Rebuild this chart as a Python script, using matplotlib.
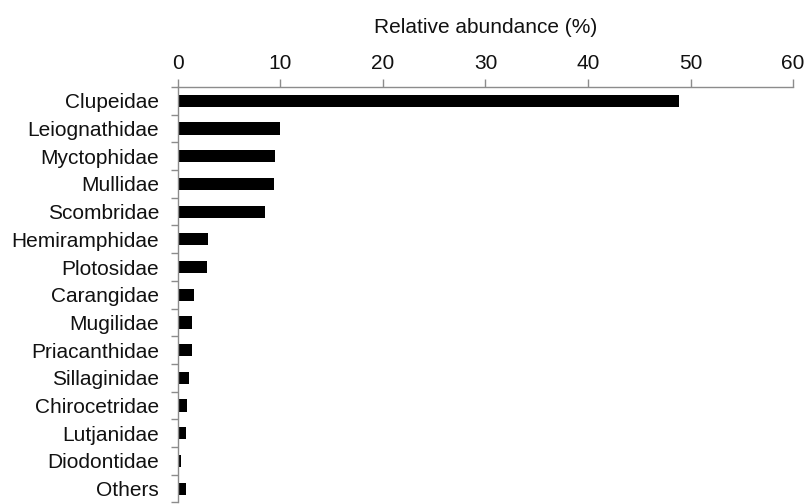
"""Relative abundance of fish families, horizontal bar chart."""
import matplotlib
matplotlib.use("Agg")
import matplotlib.pyplot as plt
import numpy as np

families = [
    "Clupeidae", "Leiognathidae", "Myctophidae", "Mullidae", "Scombridae",
    "Hemiramphidae", "Plotosidae", "Carangidae", "Mugilidae", "Priacanthidae",
    "Sillaginidae", "Chirocetridae", "Lutjanidae", "Diodontidae", "Others",
]
abundance = [48.9, 10.0, 9.5, 9.4, 8.5, 2.9, 2.85, 1.55, 1.4, 1.4,
             1.05, 0.9, 0.8, 0.3, 0.8]
x_ticks = [0, 10, 20, 30, 40, 50, 60]

plt.rcParams["font.family"] = ["Liberation Sans", "DejaVu Sans"]

fig = plt.figure(figsize=(8.06, 5.04), dpi=100)
ax = fig.add_axes([0.2208, 0.003, 0.7631, 0.8244])

y = np.arange(len(families))
ax.barh(y, abundance, height=0.44, color="black")

ax.set_xlim(0, 60)
ax.set_ylim(len(families) - 0.5, -0.5)

# x axis on top
ax.xaxis.tick_top()
ax.xaxis.set_label_position("top")
ax.set_xticks(x_ticks)
ax.set_xlabel("Relative abundance (%)", fontsize=15, color="#111111", labelpad=15.5)
ax.tick_params(axis="x", direction="out", length=6, width=1, color="#8c8c8c",
               labelsize=15, labelcolor="#111111", pad=4)

# category labels, with separator ticks between rows
ax.set_yticks(y)
ax.set_yticklabels(families)
ax.set_yticks(np.arange(-0.5, len(families), 1.0), minor=True)
ax.tick_params(axis="y", which="major", length=0, labelsize=15,
               labelcolor="#111111", pad=13.7)
ax.tick_params(axis="y", which="minor", direction="out", length=5, width=1,
               color="#8c8c8c")

for side in ["right", "bottom"]:
    ax.spines[side].set_visible(False)
for side in ["left", "top"]:
    ax.spines[side].set_color("#8c8c8c")
    ax.spines[side].set_linewidth(1)

fig.savefig("out.png", dpi=100)
